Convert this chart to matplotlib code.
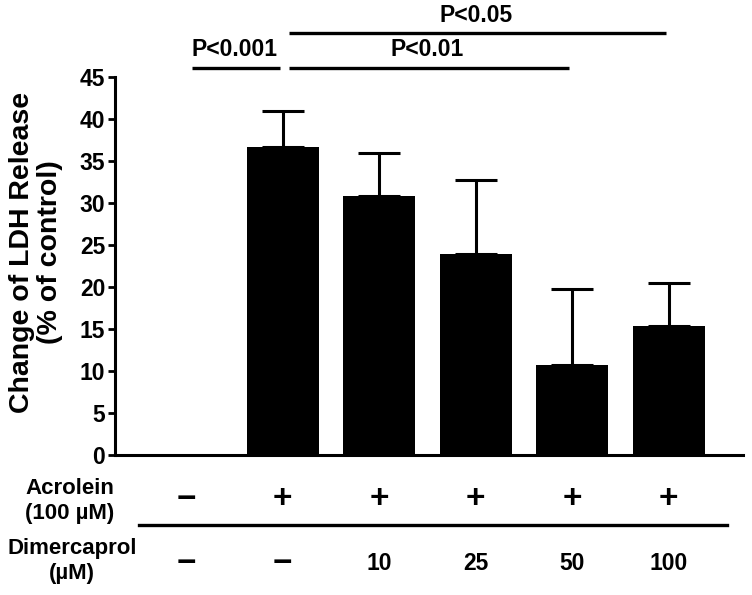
import numpy as np
import matplotlib.pyplot as plt

# valeurs
groups = ["ctrl", "acr", "d10", "d25", "d50", "d100"]
ldh_change = [0, 36.7, 30.8, 23.9, 10.7, 15.3]
ldh_sem = [0, 4.2, 5.2, 8.8, 9.1, 5.2]
acrolein_row = ["\u2212", "+", "+", "+", "+", "+"]
dimercaprol_row = ["\u2212", "\u2212", "10", "25", "50", "100"]

# comparaisons: (debut, fin, hauteur, texte)
brackets = [
    (0, 1, 46.1, "P<0.001"),
    (1, 4, 46.1, "P<0.01"),
    (1, 5, 50.2, "P<0.05"),
]

plt.rcParams["font.family"] = ["Liberation Sans", "DejaVu Sans"]
plt.rcParams["font.weight"] = "bold"

fig = plt.figure(figsize=(7.52, 5.95), dpi=100)
ax = fig.add_axes([115 / 752, 1 - 455 / 595, 628 / 752, 378 / 595])

x = np.arange(len(groups))
ax.bar(x, ldh_change, width=0.75, color="black", linewidth=0)
err_lo = np.zeros(len(groups))
ax.errorbar(x[1:], ldh_change[1:], yerr=[err_lo[1:], ldh_sem[1:]], fmt="none",
            ecolor="black", elinewidth=2.2, capsize=15, capthick=2.2)

ax.set_xlim(-0.74, 5.77)
ax.set_ylim(0, 45)
ax.set_yticks(range(0, 46, 5))
ax.set_xticks([])
for side in ["top", "right"]:
    ax.spines[side].set_visible(False)
ax.spines["left"].set_linewidth(2.2)
ax.spines["bottom"].set_linewidth(2.2)
ax.tick_params(axis="y", length=5, width=2, pad=2, labelsize=16.5)
for lab in ax.get_yticklabels():
    lab.set_fontweight("bold")

# barres de significativite
for a, b, h, txt in brackets:
    ax.plot([a + 0.06, b - 0.03], [h, h], color="black", lw=2.4,
            solid_capstyle="butt", clip_on=False)
    ax.text((a + b) / 2, h + 0.8, txt, ha="center", va="bottom",
            fontsize=16.5, fontweight="bold")

# tableau sous l'axe
tr = ax.get_xaxis_transform()
for xi, s in zip(x, acrolein_row):
    ax.text(xi, -0.119, s, transform=tr, ha="center", va="center",
            fontsize=24, fontweight="bold")
for xi, s in zip(x, dimercaprol_row):
    if s == "\u2212":
        ax.text(xi, -0.288, s, transform=tr, ha="center", va="center",
                fontsize=24, fontweight="bold")
    else:
        ax.text(xi, -0.288, s, transform=tr, ha="center", va="center",
                fontsize=16.5, fontweight="bold")
ax.plot([-0.49, 5.6], [-0.185, -0.185], transform=tr, color="black",
        lw=2.4, clip_on=False)

fig.text(70 / 752, 1 - 501 / 595, "Acrolein\n(100 \u00b5M)", ha="center",
         va="center", fontsize=16, fontweight="bold", linespacing=1.25)
fig.text(72 / 752, 1 - 561 / 595, "Dimercaprol\n(\u00b5M)", ha="center",
         va="center", fontsize=16, fontweight="bold", linespacing=1.25)

fig.text(36 / 752, 1 - 252 / 595, "Change of LDH Release\n(% of control)",
         rotation=90, ha="center", va="center", fontsize=20.5,
         fontweight="bold", linespacing=1.1)

fig.savefig("out.png", dpi=100)
